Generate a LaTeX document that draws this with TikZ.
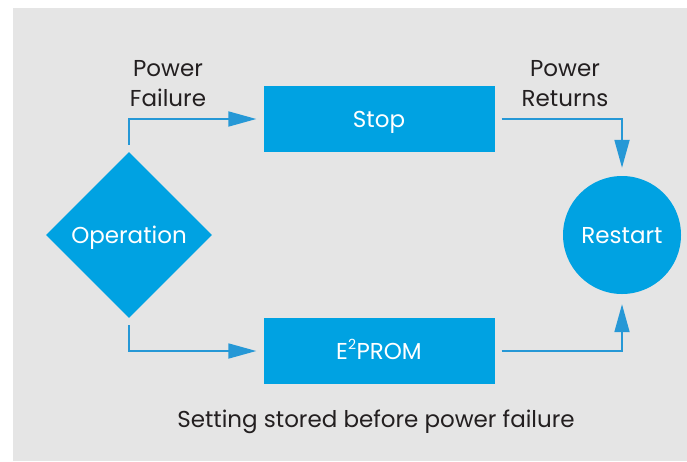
\documentclass[tikz,border=0pt]{standalone}
\usepackage{fontspec}
\setmainfont{Poppins}
\usetikzlibrary{arrows.meta, positioning, shapes.geometric}
\definecolor{flowblue}{RGB}{0, 162, 226}
\definecolor{arrowblue}{RGB}{38, 152, 214}
\definecolor{panelgray}{RGB}{229, 229, 229}
\definecolor{inkgray}{RGB}{35, 31, 32}

\begin{document}
\begin{tikzpicture}[x=1pt, y=-1pt, font=\fontsize{23}{30}\selectfont,
  block/.style={fill=flowblue, text=white, inner sep=0pt, text height=16pt, text depth=0pt},
  flow/.style={arrowblue, line width=1.8pt, -{Triangle[length=28pt, width=15pt]}},
  caption/.style={text=inkgray, align=center}]
  \useasboundingbox (0,0) rectangle (687,461);
  \fill[panelgray] (13,8) rectangle (687,461);

  % shapes
  \node[block, diamond, aspect=1, minimum size=166pt] (op) at (129,235) {Operation};
  \node[block, minimum width=231pt, minimum height=66pt] (stop) at (379,119) {Stop};
  \node[block, minimum width=231pt, minimum height=66pt] (eprom) at (379,351) {E\textsuperscript{\fontsize{14}{14}\selectfont 2}PROM};
  \node[block, circle, minimum size=118pt] (rst) at (622,235) {Restart};

  % labels
  \node[caption] (fail) at (168,84) {Power\\Failure};
  \node[caption] (back) at (565,84) {Power\\Returns};
  \node[caption] (note) at (376,422) {Setting stored before power failure};

  % connectors
  \draw[flow, shorten >=7pt] ([yshift=7pt]op.north) |- (stop.west);
  \draw[flow, shorten >=7pt] ([yshift=-7pt]op.south) |- (eprom.west);
  \draw[flow, shorten >=8pt] ([xshift=7pt]stop.east) -| (rst.north);
  \draw[flow, shorten >=10pt] ([xshift=7pt]eprom.east) -| (rst.south);
\end{tikzpicture}
\end{document}
